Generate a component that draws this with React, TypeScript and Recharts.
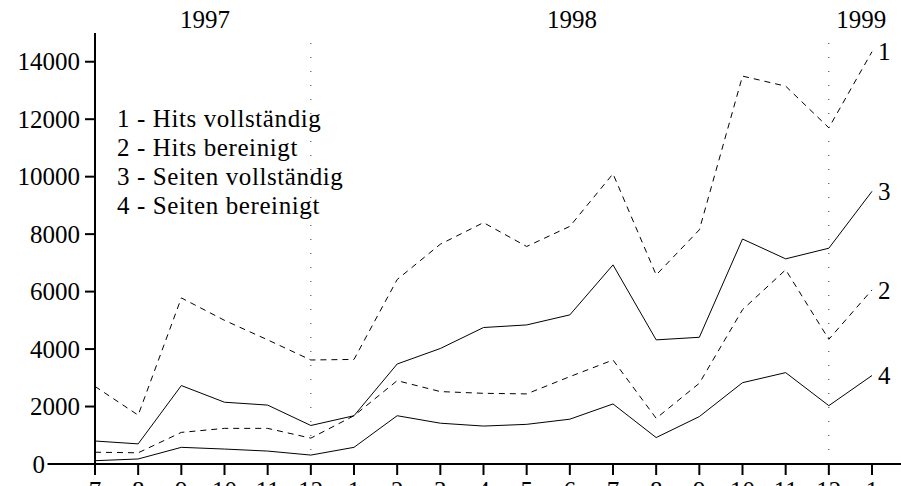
import {
  Line,
  LineChart,
  ReferenceLine,
  Legend,
  XAxis,
  YAxis
} from 'recharts';

const MONTHS = ['7', '8', '9', '10', '11', '12', '1', '2', '3', '4', '5', '6', '7', '8', '9', '10', '11', '12', '1'];

const HITS_FULL = [2700, 1700, 5780, 5000, 4320, 3620, 3640, 6420, 7650, 8400, 7570, 8270, 10100, 6580, 8150, 13500, 13150, 11700, 14350];
const HITS_CLEAN = [410, 390, 1100, 1240, 1240, 900, 1680, 2900, 2520, 2460, 2440, 3040, 3620, 1590, 2810, 5370, 6760, 4340, 6060];
const PAGES_FULL = [800, 700, 2730, 2150, 2050, 1340, 1680, 3480, 4020, 4750, 4840, 5190, 6930, 4320, 4410, 7830, 7140, 7510, 9490];
const PAGES_CLEAN = [115, 175, 580, 520, 450, 310, 580, 1680, 1420, 1320, 1380, 1560, 2090, 920, 1650, 2830, 3180, 2030, 3080];

const Y_TICKS = [0, 2000, 4000, 6000, 8000, 10000, 12000, 14000];

// year captions along the top, placed between month indices
const YEARS = ['1997', '1998', '1999'];
const YEAR_AT = [2.55, 11.05, 17.75];

// month indices where a year ends (dotted separators)
const YEAR_ENDS = [5, 17];

const SERIES = [
  { key: 'hitsFull', num: '1', name: 'Hits vollständig', values: HITS_FULL, dash: '6 5' },
  { key: 'hitsClean', num: '2', name: 'Hits bereinigt', values: HITS_CLEAN, dash: '6 5' },
  { key: 'pagesFull', num: '3', name: 'Seiten vollständig', values: PAGES_FULL, dash: undefined },
  { key: 'pagesClean', num: '4', name: 'Seiten bereinigt', values: PAGES_CLEAN, dash: undefined }
];

const data = MONTHS.map((m, i) => {
  const row: Record<string, number | string> = { idx: i, month: m };
  SERIES.forEach((s) => {
    row[s.key] = s.values[i];
  });
  return row;
});

const FONT = '"Liberation Serif", "Times New Roman", serif';
const FONT_SIZE = 25;
const INK = '#000';

function endLabel(num: string) {
  return function EndLabel(props: any) {
    const { x, y, index } = props;
    if (index !== MONTHS.length - 1) {
      return null;
    }
    return (
      <text x={x + 6} y={y} dy="0.35em" fontFamily={FONT} fontSize={FONT_SIZE} fill={INK}>
        {num}
      </text>
    );
  };
}

// the zero sits left of where the baseline starts, the rest hug the axis
function YTick({ x, y, payload }: any) {
  const shift = payload.value === 0 ? 35 : 0;
  return (
    <text
      x={x - shift}
      y={y}
      dy="0.35em"
      textAnchor="end"
      fontFamily={FONT}
      fontSize={FONT_SIZE}
      fill={INK}
    >
      {payload.value}
    </text>
  );
}

function LegendBlock() {
  return (
    <div
      style={{
        fontFamily: FONT,
        fontSize: FONT_SIZE,
        lineHeight: '29px',
        color: INK,
        letterSpacing: '0.6px',
        whiteSpace: 'nowrap',
        textAlign: 'left'
      }}
    >
      {SERIES.map((s) => (
        <div key={s.key}>
          {s.num} - {s.name}
        </div>
      ))}
    </div>
  );
}

export default function App() {
  return (
    <div style={{ position: 'fixed', left: 0, top: 0, width: 901, height: 486, overflow: 'hidden', background: '#fff' }}>
      <LineChart width={901} height={486} data={data} margin={{ top: 0, right: 29, bottom: 0, left: 0 }}>
        <XAxis
          xAxisId="year"
          orientation="top"
          type="number"
          domain={[0, MONTHS.length - 1]}
          ticks={YEAR_AT}
          tickFormatter={(v: number) => YEARS[YEAR_AT.indexOf(v)]}
          height={33}
          axisLine={false}
          tickLine={false}
          tickSize={0}
          tickMargin={5}
          tick={{ fill: INK, fontFamily: FONT, fontSize: FONT_SIZE }}
          allowDataOverflow
        />
        <XAxis
          dataKey="idx"
          type="number"
          domain={[0, MONTHS.length - 1]}
          ticks={MONTHS.map((_, i) => i)}
          tickFormatter={(v: number) => MONTHS[v]}
          interval={0}
          height={22}
          axisLine={{ stroke: INK, strokeWidth: 2 }}
          tickLine={{ stroke: INK, strokeWidth: 2 }}
          tickSize={11}
          tickMargin={6}
          tick={{ fill: INK, fontFamily: FONT, fontSize: FONT_SIZE }}
        />
        <YAxis
          domain={[0, 15000]}
          ticks={Y_TICKS}
          width={95}
          axisLine={{ stroke: INK, strokeWidth: 2 }}
          tickLine={{ stroke: INK, strokeWidth: 2 }}
          tickSize={10}
          tickMargin={5}
          tick={<YTick />}
        />
        {/* baseline runs past both ends of the plot */}
        <ReferenceLine
          segment={[{ x: -1.1, y: 0 }, { x: MONTHS.length - 1 + 0.7, y: 0 }]}
          stroke={INK}
          strokeWidth={2}
          ifOverflow="visible"
        />
        {YEAR_ENDS.map((i) => (
          <ReferenceLine key={i} x={i} stroke="#333" strokeWidth={1} strokeDasharray="1 13" />
        ))}
        <Legend
          layout="horizontal"
          verticalAlign="middle"
          align="center"
          content={<LegendBlock />}
          wrapperStyle={{ left: 117, top: 104, width: 'auto' }}
        />
        {SERIES.map((s) => (
          <Line
            key={s.key}
            dataKey={s.key}
            name={s.name}
            type="linear"
            stroke={INK}
            strokeWidth={1}
            strokeDasharray={s.dash}
            dot={false}
            activeDot={false}
            label={endLabel(s.num)}
            isAnimationActive={false}
          />
        ))}
      </LineChart>
    </div>
  );
}
